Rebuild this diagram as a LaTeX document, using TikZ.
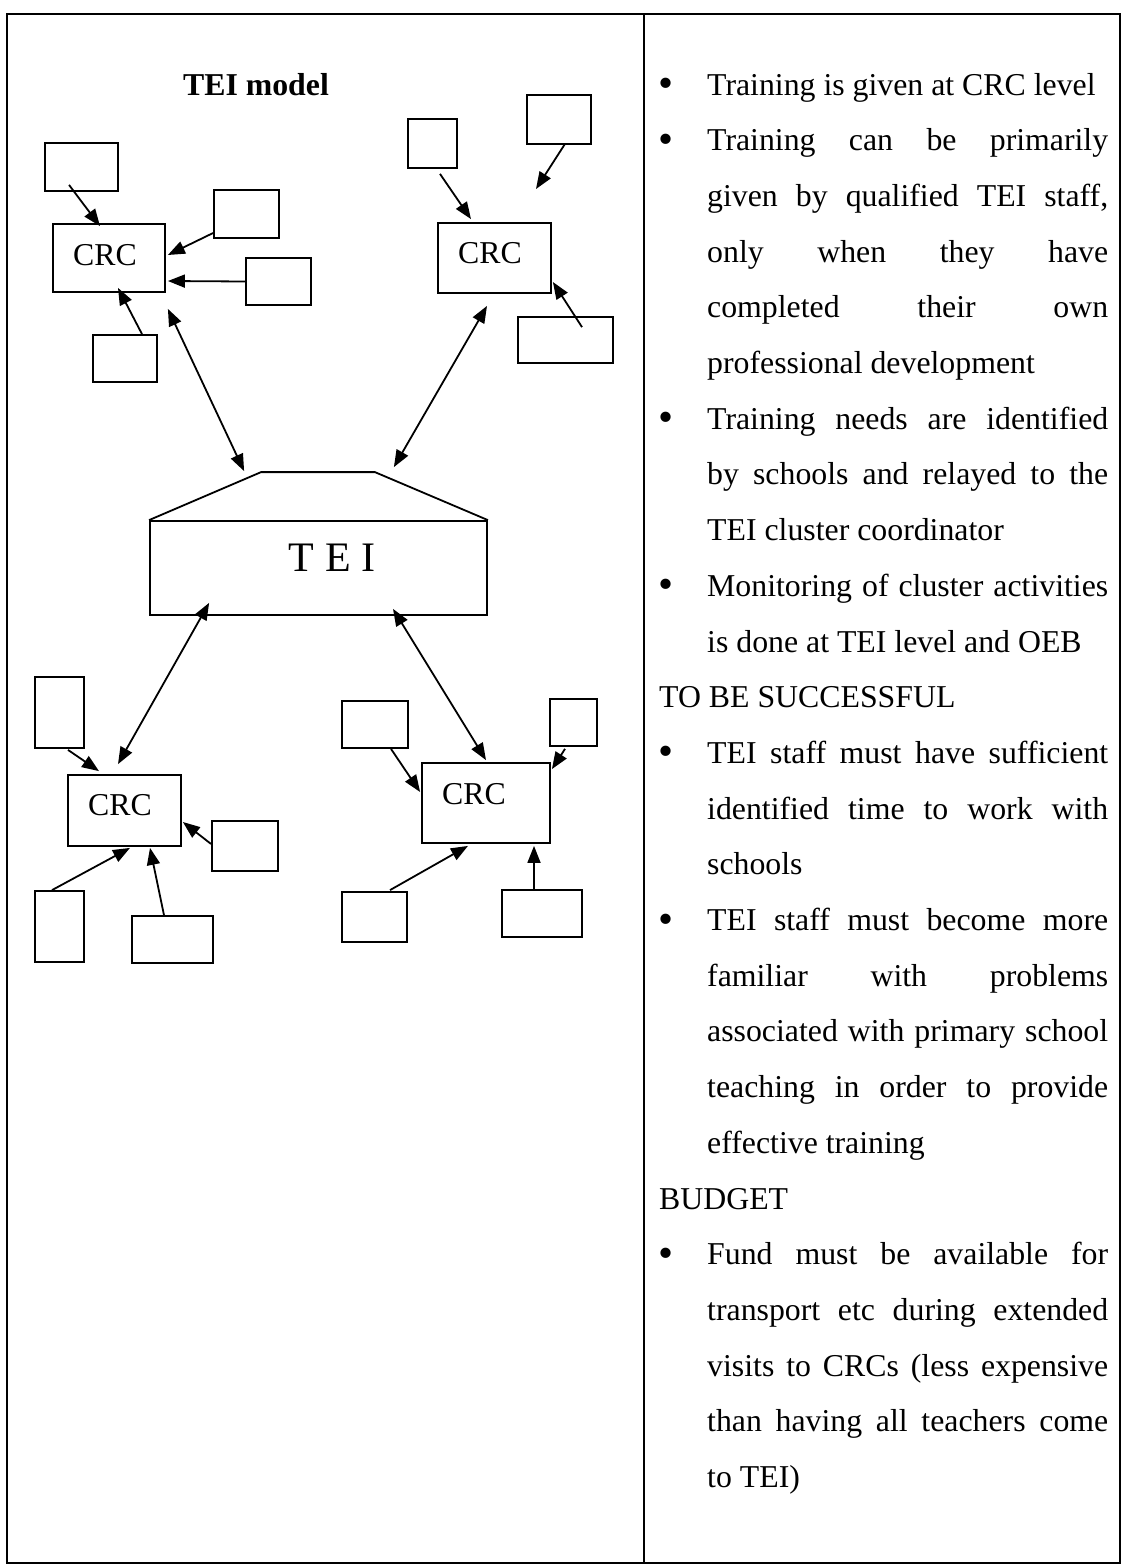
\documentclass[tikz,border=0pt]{standalone}
\usepackage{fontspec}
\setmainfont{Liberation Serif}
\usetikzlibrary{arrows.meta}

% justified line, plain line, bullet and heading helpers for the notes column
\newcommand\jline[1]{\makebox[\linewidth][s]{#1}\par}
\newcommand\pline[1]{#1\par}
\newcommand\bul{\leavevmode\llap{\makebox[49pt][l]{\raisebox{-2.5pt}{\scalebox{1.35}{\textbullet}}}}}
\newcommand\headline[1]{\hspace*{-48pt}#1\par}

\tikzset{
  frameline/.style={line width=1.2pt},
  slot/.style={draw, line width=1.8pt, inner sep=0pt},
  tip/.tip={Triangle[length=17pt,width=13pt]},
  link/.style={line width=1.8pt, -tip},
  dlink/.style={line width=1.8pt, tip-tip},
  lbl/.style={font=\fontsize{31.8}{38}\selectfont, inner sep=0pt},
}

\begin{document}
\begin{tikzpicture}[x=1pt,y=-1pt]
\useasboundingbox (0,0) rectangle (1125,1566);

% table frame
\draw[frameline] (7,14) rectangle (1120,1563);
\draw[frameline] (644,14) -- (644,1563);

% title
\node[lbl, font=\fontsize{31.8}{38}\selectfont\bfseries, anchor=base] (title) at (256,95) {TEI model};

% ---- TEI centre ----
\node[slot, minimum width=337pt, minimum height=94pt] (tei) at (318.5,568) {};
\coordinate (roofL) at ([xshift=112pt,yshift=48pt]tei.north west);
\coordinate (roofR) at ([xshift=-113pt,yshift=48pt]tei.north east);
\draw[line width=1.8pt] (tei.north west) -- (roofL) -- (roofR) -- (tei.north east);
\node[lbl, font=\fontsize{42}{48}\selectfont] (teitext) at (332,558) {T E I};

% ---- upper left cluster ----
\node[slot, minimum width=112pt, minimum height=68pt] (crc1) at (109,258) {};
\node[lbl] (crc1t) at (105,255) {CRC};
\node[slot, minimum width=73pt, minimum height=48pt] (A) at (81.5,167) {};
\node[slot, minimum width=65pt, minimum height=48pt] (B) at (246.5,214) {};
\node[slot, minimum width=65pt, minimum height=47pt] (C) at (278.5,281.5) {};
\node[slot, minimum width=64pt, minimum height=47pt] (D) at (125,358.5) {};
\draw[link] ([xshift=-12.5pt,yshift=7pt]A.south) -- ([xshift=-9pt,yshift=-3pt]crc1.north);
\draw[link] ([yshift=-19pt]B.west) -- ([xshift=2pt,yshift=3pt]crc1.east);
\draw[link] (C.west) -- ([xshift=2pt,yshift=-23pt]crc1.east);
\draw[link] ([xshift=17pt]D.north) -- ([xshift=9pt,yshift=5pt]crc1.south);
\draw[dlink] ([xshift=2pt,yshift=-16pt]crc1.south east) -- ([xshift=-17pt,yshift=1pt]roofL);

% ---- upper right cluster ----
\node[slot, minimum width=113pt, minimum height=70pt] (crc2) at (494.5,258) {};
\node[lbl] (crc2t) at (490,253) {CRC};
\node[slot, minimum width=49pt, minimum height=49pt] (E) at (432.5,143.5) {};
\node[slot, minimum width=64pt, minimum height=49pt] (F) at (559,119.5) {};
\node[slot, minimum width=95pt, minimum height=46pt] (G) at (565.5,340) {};
\coordinate (fend) at (536,189);
\draw[link] ([xshift=7.5pt,yshift=-5pt]E.south) -- ([xshift=-23.5pt,yshift=3pt]crc2.north);
\draw[link] ([xshift=6pt,yshift=1pt]F.south) -- (fend);
\draw[link] ([xshift=16.5pt,yshift=-11pt]G.north) -- ([xshift=1pt,yshift=-24pt]crc2.east);
\draw[dlink] ([xshift=-7.5pt,yshift=-12pt]crc2.south) -- ([xshift=19pt,yshift=5pt]roofR);

% ---- lower left cluster ----
\node[slot, minimum width=113pt, minimum height=71pt] (crc3) at (124.5,810.5) {};
\node[lbl] (crc3t) at (120,805) {CRC};
\node[slot, minimum width=49pt, minimum height=71pt] (H) at (59.5,712.5) {};
\node[slot, minimum width=66pt, minimum height=50pt] (I) at (245,846) {};
\node[slot, minimum width=49pt, minimum height=71pt] (J) at (59.5,926.5) {};
\node[slot, minimum width=81pt, minimum height=47pt] (K) at (172.5,939.5) {};
\draw[dlink] ([xshift=60pt,yshift=13pt]tei.south west) -- ([xshift=-6.5pt,yshift=10pt]crc3.north);
\draw[link] ([xshift=8.5pt,yshift=-1pt]H.south) -- ([xshift=-25.5pt,yshift=3pt]crc3.north);
\draw[link] ([yshift=2pt]I.west) -- ([xshift=1pt,yshift=-11.5pt]crc3.east);
\draw[link] ([xshift=-7.5pt]J.north) -- ([xshift=5.5pt,yshift=-1pt]crc3.south);
\draw[link] ([xshift=-8.5pt]K.north) -- ([xshift=25.5pt,yshift=-1pt]crc3.south);

% ---- lower right cluster ----
\node[slot, minimum width=128pt, minimum height=80pt] (crc4) at (486,803) {};
\node[lbl] (crc4t) at (474,794) {CRC};
\node[slot, minimum width=66pt, minimum height=47pt] (L) at (375,724.5) {};
\node[slot, minimum width=47pt, minimum height=47pt] (M) at (573.5,722.5) {};
\node[slot, minimum width=65pt, minimum height=50pt] (N) at (374.5,917) {};
\node[slot, minimum width=80pt, minimum height=47pt] (O) at (542,913.5) {};
\draw[dlink] ([xshift=74.5pt,yshift=7pt]tei.south) -- ([yshift=2pt]crc4.north);
\draw[link] ([xshift=16pt]L.south) -- ([xshift=-1pt,yshift=11pt]crc4.west);
\draw[link] ([xshift=-8.5pt,yshift=-2pt]M.south) -- ([xshift=1pt,yshift=-7pt]crc4.north east);
\draw[link] ([xshift=15.5pt,yshift=1pt]N.north) -- ([xshift=-18pt,yshift=-2pt]crc4.south);
\draw[link] ([xshift=-8pt]O.north) -- ([xshift=48pt,yshift=-2pt]crc4.south);

% ---- notes column ----
\node[inner sep=0pt, anchor=base west] (notes) at (707,95) {%
  \parbox[t]{401pt}{\fontsize{31.8}{55.7}\selectfont
    \pline{\bul Training is given at CRC level}
    \jline{\bul Training can be primarily}
    \jline{given by qualified TEI staff,}
    \jline{only when they have}
    \jline{completed their own}
    \pline{professional development}
    \jline{\bul Training needs are identified}
    \jline{by schools and relayed to the}
    \pline{TEI cluster coordinator}
    \jline{\bul Monitoring of cluster activities}
    \pline{is done at TEI level and OEB}
    \headline{TO BE SUCCESSFUL}
    \jline{\bul TEI staff must have sufficient}
    \jline{identified time to work with}
    \pline{schools}
    \jline{\bul TEI staff must become more}
    \jline{familiar with problems}
    \jline{associated with primary school}
    \jline{teaching in order to provide}
    \pline{effective training}
    \headline{BUDGET}
    \jline{\bul Fund must be available for}
    \jline{transport etc during extended}
    \jline{visits to CRCs (less expensive}
    \jline{than having all teachers come}
    \pline{to TEI)}
  }};
\end{tikzpicture}
\end{document}
